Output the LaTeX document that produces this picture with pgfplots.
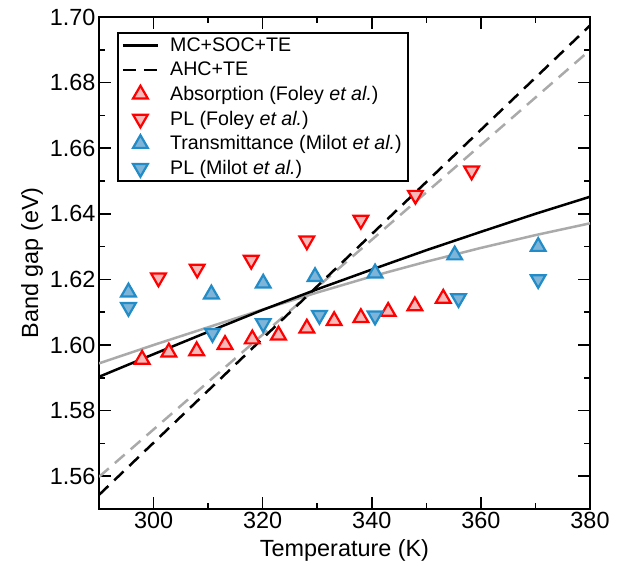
\documentclass[border=0pt]{standalone}
\usepackage{fontspec}
\setmainfont{Liberation Sans}
\usepackage{pgfplots}
\pgfplotsset{compat=1.18}
\definecolor{redfill}{RGB}{250,185,185}
\definecolor{blueedge}{RGB}{33,140,200}
\definecolor{bluefill}{RGB}{125,180,215}
\definecolor{lgray}{RGB}{170,170,170}
\begin{document}
\begin{tikzpicture}
\begin{axis}[
  scale only axis, width=491bp, height=492bp,
  xmin=290, xmax=380, ymin=1.55, ymax=1.70,
  xtick={300,320,340,360,380}, minor x tick num=1,
  ytick={1.56,1.58,1.60,1.62,1.64,1.66,1.68,1.70}, minor y tick num=1,
  yticklabel style={/pgf/number format/.cd, fixed, fixed zerofill, precision=2},
  xticklabel style={/pgf/number format/.cd, 1000 sep={}},
  /pgf/number format/assume math mode=true,
  tick label style={font=\fontsize{23.5}{27}\selectfont},
  label style={font=\fontsize{23.5}{27}\selectfont},
  xlabel={Temperature (K)}, ylabel={Band gap (eV)},
  xlabel style={yshift=-4bp},
  tick align=inside, major tick length=12bp, minor tick length=6bp,
  every tick/.style={black, line width=1.6bp},
  axis line style={line width=2bp},
  legend cell align=left,
  legend style={at={(axis description cs:0.036,0.9695)}, anchor=north west,
    draw=black, line width=2bp, font=\fontsize{19.7}{24}\selectfont,
    row sep=5bp, column sep=9bp, inner xsep=4bp, inner ysep=3bp},
  legend image code/.code={\draw[mark repeat=2,mark phase=2,#1] plot coordinates {(0bp,0bp)(17.5bp,0bp)(35bp,0bp)};},
]
\coordinate (sw) at (rel axis cs:0,0);
\coordinate (ne) at (rel axis cs:1,1);
% gray model lines (not in legend)
\addplot[lgray, line width=2.5bp, forget plot] coordinates {
(290,1.5944)(300,1.6000)(310,1.6054)(320,1.6108)(330,1.6160)(340,1.6209)(350,1.6254)(360,1.6296)(370,1.6335)(380,1.6371)};
\addplot[lgray, line width=2.5bp, dash pattern=on 13bp off 8bp, forget plot] coordinates {
(290,1.5598)(380,1.6899)};
% black model lines
\addplot[black, line width=2.5bp] coordinates {
(290,1.5903)(300,1.5972)(310,1.6040)(320,1.6107)(330,1.6170)(340,1.6230)(350,1.6289)(360,1.6345)(370,1.6400)(380,1.6452)};
\addlegendentry{MC+SOC+TE}
\addplot[black, line width=2.5bp, dash pattern=on 13bp off 8bp] coordinates {
(290,1.5543)(380,1.6974)};
\addlegendentry{AHC+TE}
\addplot[only marks, mark=triangle*, mark size=8.5bp, mark options={draw=red, fill=redfill, line width=2.2bp}] coordinates {
(297.9,1.5956)(302.8,1.5978)(307.9,1.5982)(313.1,1.6001)(318.1,1.6018)(322.9,1.6030)(328.1,1.6051)(333.1,1.6074)(338.0,1.6083)(343.0,1.6102)(347.9,1.6119)(353.1,1.6142)};
\addlegendentry{Absorption (Foley \textit{et al.})}
\addplot[only marks, mark=triangle*, mark size=8.5bp, mark options={draw=red, fill=redfill, line width=2.2bp, rotate=180}] coordinates {
(300.9,1.6205)(308.0,1.6232)(317.9,1.6259)(328.1,1.6318)(338.0,1.6381)(348.0,1.6457)(358.3,1.6531)};
\addlegendentry{PL (Foley \textit{et al.})}
\addplot[only marks, mark=triangle*, mark size=8.5bp, mark options={draw=blueedge, fill=bluefill, line width=2.2bp}] coordinates {
(295.4,1.6161)(310.6,1.6155)(320.1,1.6188)(329.6,1.6208)(340.6,1.6219)(355.2,1.6274)(370.5,1.6300)};
\addlegendentry{Transmittance (Milot \textit{et al.})}
\addplot[only marks, mark=triangle*, mark size=8.5bp, mark options={draw=blueedge, fill=bluefill, line width=2.2bp, rotate=180}] coordinates {
(295.4,1.6115)(310.8,1.6036)(320.1,1.6066)(330.4,1.6091)(340.6,1.6089)(355.9,1.6142)(370.5,1.6200)};
\addlegendentry{PL (Milot \textit{et al.})}
\end{axis}
\path ([shift={(-99bp,-53bp)}]sw) rectangle ([shift={(33bp,17bp)}]ne);
\end{tikzpicture}
\end{document}
